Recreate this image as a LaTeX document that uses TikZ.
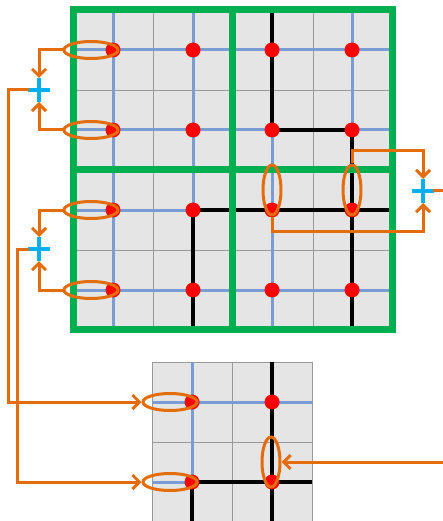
\documentclass[tikz,border=0pt]{standalone}
\usetikzlibrary{shapes.geometric,arrows.meta}
\definecolor{bgc}{RGB}{229,229,229}
\definecolor{lblue}{RGB}{121,157,212}
\definecolor{grn}{RGB}{0,176,80}
\definecolor{org}{RGB}{228,108,10}
\definecolor{cyn}{RGB}{0,176,240}
\tikzset{
  bgfill/.style={fill=bgc},
  thingrid/.style={draw=black!40,line width=0.8pt},
  bluel/.style={draw=lblue,line width=3pt},
  blackl/.style={draw=black,line width=3.5pt},
  greenl/.style={draw=grn,line width=7pt},
  rdot/.style={circle,fill=red,minimum size=15pt,inner sep=0pt},
  hring/.style={ellipse,draw=org,line width=3pt,minimum width=54pt,minimum height=17pt,inner sep=0pt},
  vring/.style={ellipse,draw=org,line width=3pt,minimum width=18pt,minimum height=50pt,inner sep=0pt},
  conn/.style={draw=org,line width=3pt},
  arr/.style={conn,-{Straight Barb[length=7pt,width=14pt]}},
  cyanl/.style={draw=cyn,line width=3.5pt}
}
\begin{document}
\begin{tikzpicture}[x=1pt,y=-1pt]
\useasboundingbox (0,0) rectangle (443,521);
% ---------- big grid ----------
\fill[bgfill] (73,10) rectangle (392,329);
\foreach \x in {153,313} \draw[thingrid] (\x,10) -- (\x,329);
\foreach \y in {90,250} \draw[thingrid] (73,\y) -- (392,\y);
\foreach \y in {50,130,210,290} \draw[bluel] (73,\y) -- (392,\y);
\foreach \x in {113,193,272,352} \draw[bluel] (\x,10) -- (\x,329);
\draw[blackl] (272,10) -- (272,130) -- (352,130) -- (352,329);
\draw[blackl] (193,329) -- (193,210) -- (392,210);
\draw[greenl] (73,10) rectangle (392,329);
\draw[greenl] (232,10) -- (232,329);
\draw[greenl] (73,170) -- (392,170);
% red dots
\foreach \x/\i in {113/1,193/2,272/3,352/4}
  \foreach \y/\j in {50/1,130/2,210/3,290/4}
    \node[rdot] (d\i\j) at (\x,\y) {};
% ---------- small grid ----------
\fill[bgfill] (152,362) rectangle (312,521);
\draw[thingrid] (152,362) rectangle (312,522);
\draw[thingrid] (232,362) -- (232,521);
\draw[thingrid] (152,442) -- (312,442);
\draw[bluel] (152,402) -- (312,402);
\draw[bluel] (192,362) -- (192,482);
\draw[bluel] (152,482) -- (192,482);
\draw[blackl] (192,521) -- (192,482) -- (312,482);
\draw[blackl] (272,362) -- (272,521);
\node[rdot] (s11) at (192,402) {};
\node[rdot] (s21) at (272,402) {};
\node[rdot] (s12) at (192,482) {};
\node[rdot] (s22) at (272,482) {};
% ---------- rings ----------
\node[hring] (e1) at (91,50) {};
\node[hring] (e2) at (91,130) {};
\node[hring] (e3) at (91,210) {};
\node[hring] (e4) at (91,290) {};
\node[vring] (e5) at (272,190) {};
\node[vring] (e6) at (352,190) {};
\node[hring] (e7) at (170,402) {};
\node[hring] (e8) at (170,482) {};
\node[vring] (e9) at (271,462) {};
% ---------- summing crosses ----------
\coordinate (c1) at (39,90);
\coordinate (c1t) at (39,78);
\coordinate (c1b) at (39,102);
\coordinate (c1l) at (29,90);
\coordinate (c2) at (39,249);
\coordinate (c2t) at (39,237);
\coordinate (c2b) at (39,261);
\coordinate (c2l) at (29,249);
\coordinate (c3) at (423,191);
\coordinate (c3t) at (423,179);
\coordinate (c3b) at (423,203);
\coordinate (c3r) at (433,191);
\coordinate (rout) at (443,191);
\coordinate (rin) at (443,462);
\foreach \c in {c1,c2,c3} {
  \draw[cyanl] (\c) ++(-11,0) -- ++(22,0);
  \draw[cyanl] (\c) ++(0,-12) -- ++(0,24);
}
% ---------- connectors ----------
\draw[arr] (e1.west) -| (c1t);
\draw[arr] (e2.west) -| (c1b);
\draw[arr] (e3.west) -| (c2t);
\draw[arr] (e4.west) -| (c2b);
\draw[arr] (c1l) -- ++(-21,0) |- (e7.west);
\draw[arr] (c2l) -- ++(-12,0) |- (e8.west);
\draw[arr] (e6.north) -- ++(0,-13) -| (c3t);
\draw[arr] (e5.south) -- ++(0,15) -| (c3b);
\draw[conn] (c3r) -- (rout);
\draw[arr] (rin) -- (e9.east);
\end{tikzpicture}
\end{document}
